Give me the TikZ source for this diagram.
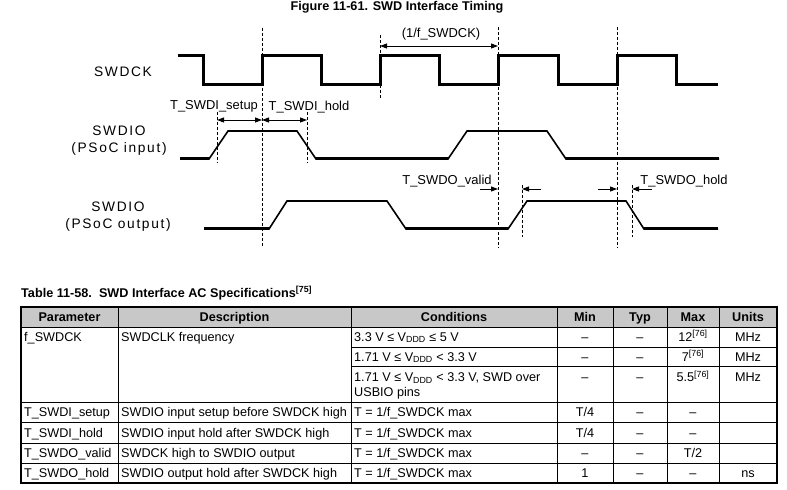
\documentclass[tikz,border=0pt]{standalone}
\usepackage{fontspec}
\setmainfont{Liberation Sans}
\newfontfamily\widefont[LetterSpace=12]{Liberation Sans}
\usetikzlibrary{arrows.meta}
\definecolor{hdrgray}{HTML}{C8C8C8}

\begin{document}
\begin{tikzpicture}[x=1bp,y=-1bp,
    every node/.style={font=\fontsize{12.7}{15}\selectfont,inner sep=0pt},
    sig/.style={font=\widefont\fontsize{13.8}{17}\selectfont,align=center},
    tlabel/.style={font=\fontsize{13}{15}\selectfont},
    clk/.style={line width=3bp},
    wave/.style={line width=1.6bp},
    wavelow/.style={line width=3bp},
    guide/.style={line width=0.9bp,dash pattern=on 3bp off 2bp},
    dim/.style={{Triangle[length=7bp,width=5bp]}-{Triangle[length=7bp,width=5bp]},line width=0.9bp},
    pointer/.style={-{Triangle[length=7bp,width=5bp]},line width=0.9bp},
    hdr/.style={font=\bfseries\fontsize{12.7}{15}\selectfont},
    cell/.style={anchor=base west},
    num/.style={anchor=base}]
  \useasboundingbox (0,0) rectangle (787,490);

  % timing figure
  \node[hdr] (figtitle) at (397,7) {Figure 11-61. SWD Interface Timing};
  \node[sig] (swdck) at (123,72) {SWDCK};
  \node[sig] (din) at (119,141) {SWDIO\\(PSoC input)};
  \node[sig] (dout) at (118,217) {SWDIO\\(PSoC output)};

  \draw[clk] (178,56) -- (203,56) -- (203,85) -- (262,85) -- (262,56) -- (321,56) -- (321,85)
    -- (380,85) -- (380,56) -- (439,56) -- (439,85) -- (498,85) -- (498,56) -- (558,56)
    -- (558,85) -- (617,85) -- (617,56) -- (676,56) -- (676,85) -- (718,85);

  \draw[wave] (180,159) -- (209,159) -- (228,131) -- (297,131) -- (316,159) -- (448,159)
    -- (467,131) -- (547,131) -- (566,159) -- (719,159);
  \draw[wavelow] (180,159) -- (209,159) (316,159) -- (448,159) (566,159) -- (719,159);

  \draw[wave] (204,229) -- (269,229) -- (287,201) -- (387,201) -- (406,229) -- (508,229)
    -- (527,201) -- (626,201) -- (644,229) -- (718,229);
  \draw[wavelow] (204,229) -- (269,229) (406,229) -- (508,229) (644,229) -- (718,229);

  % edges
  \coordinate (e1) at (262,0);
  \coordinate (e2) at (380,0);
  \coordinate (e3) at (498,0);
  \coordinate (e4) at (617,0);
  \draw[guide] (e1 |- 0,28) -- (e1 |- 0,248);
  \draw[guide] (e2 |- 0,35) -- (e2 |- 0,100);
  \draw[guide] (e3 |- 0,27) -- (e3 |- 0,248);
  \draw[guide] (e4 |- 0,27) -- (e4 |- 0,248);
  \draw[guide] (217,112) coordinate (su) -- (217,163);
  \draw[guide] (307,112) coordinate (ho) -- (307,163);
  \draw[guide] (522,185) coordinate (va) -- (522,237);
  \draw[guide] (632,185) coordinate (oh) -- (632,237);

  \draw[dim] (e2 |- 0,46) -- (e3 |- 0,46);
  \node[tlabel] (period) at (441,34) {(1/f\_SWDCK)};
  \draw[dim] (su |- 0,120) -- (e1 |- 0,120);
  \draw[dim] (e1 |- 0,120) -- (ho |- 0,120);
  \node[tlabel] (setup) at (214,106) {T\_SWDI\_setup};
  \node[tlabel] (hold) at (309,107) {T\_SWDI\_hold};
  \draw[pointer] (480,189) -- (e3 |- 0,189);
  \draw[pointer] (541,189) -- (va |- 0,189);
  \draw[pointer] (598,189) -- (e4 |- 0,189);
  \draw[pointer] (652,189) -- (oh |- 0,189);
  \node[tlabel] (valid) at (447,181) {T\_SWDO\_valid};
  \node[tlabel] (ohold) at (684,181) {T\_SWDO\_hold};

  % table
  \node[hdr,anchor=west] (tabtitle) at (21,293)
    {Table 11-58.\ \ SWD Interface AC Specifications\textsuperscript{[75]}};
  \fill[hdrgray] (21,307) rectangle (777,327);
  \foreach \y in {327,402,422,443,463}
    \draw[line width=0.9bp] (21,\y) -- (777,\y);
  \foreach \y in {347,366}
    \draw[line width=0.9bp] (351,\y) -- (777,\y);
  \foreach \x in {118,351,557,613,667,719}
    \draw[line width=0.9bp] (\x,307) -- (\x,483);
  \draw[line width=1.2bp] (21,307) rectangle (777,483);

  \foreach \x/\t in {69.5/Parameter,234.5/Description,454/Conditions,585/Min,640/Typ,693/Max,748/Units}
    \node[hdr,anchor=base] at (\x,321.5) {\t};

  \node[cell] (fclk) at (24,341) {f\_SWDCK};
  \node[cell] (fdesc) at (121,341) {SWDCLK frequency};
  \node[cell] (c1) at (354,341) {3.3 V ≤ V\textsubscript{DDD} ≤ 5 V};
  \node[cell] (c2) at (354,361) {1.71 V ≤ V\textsubscript{DDD} < 3.3 V};
  \node[cell] (c3) at (354,381.5) {1.71 V ≤ V\textsubscript{DDD} < 3.3 V, SWD over};
  \node[cell] (c3b) at (354,396.5) {USBIO pins};
  \foreach \y/\mx in {341/12,361/7,381.5/5.5} {
    \node[num] at (585,\y) {--};
    \node[num] at (640,\y) {--};
    \node[num] at (693,\y) {\mx\textsuperscript{[76]}};
    \node[num] at (748,\y) {MHz};
  }

  \foreach \y/\p/\d in {416.5/T\_SWDI\_setup/SWDIO input setup before SWDCK high,
                        437/T\_SWDI\_hold/SWDIO input hold after SWDCK high,
                        457.5/T\_SWDO\_valid/SWDCK high to SWDIO output,
                        477.5/T\_SWDO\_hold/SWDIO output hold after SWDCK high} {
    \node[cell] at (24,\y) {\p};
    \node[cell] at (121,\y) {\d};
    \node[cell] at (354,\y) {T = 1/f\_SWDCK max};
  }
  \foreach \y/\mn/\ty/\mx/\u in {416.5/{T/4}/--/--/,437/{T/4}/--/--/,457.5/--/--/{T/2}/,477.5/1/--/--/ns} {
    \node[num] at (585,\y) {\mn};
    \node[num] at (640,\y) {\ty};
    \node[num] at (693,\y) {\mx};
    \node[num] at (748,\y) {\u};
  }
\end{tikzpicture}
\end{document}
